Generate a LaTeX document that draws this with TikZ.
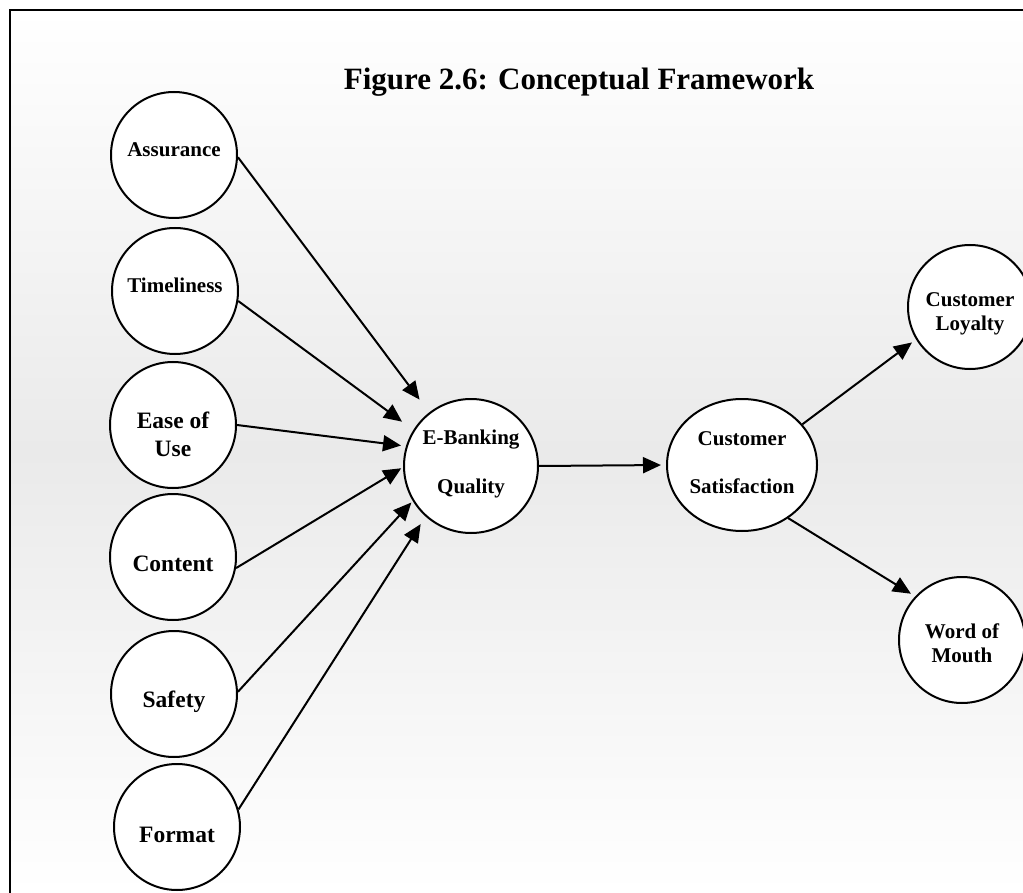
\documentclass[tikz,border=0pt]{standalone}
\usepackage{fontspec}
\setmainfont{Liberation Serif}
\usetikzlibrary{arrows.meta,shapes.geometric}
\definecolor{panelmid}{RGB}{234,234,234}
\begin{document}
\begin{tikzpicture}[x=1pt,y=-1pt,
  factor/.style={circle,draw=black,fill=white,line width=2pt,minimum size=126pt,inner sep=0pt},
  lbl/.style={font=\fontsize{21}{24}\selectfont\bfseries,align=center,inner sep=0pt},
  lblbig/.style={font=\fontsize{23.5}{28}\selectfont\bfseries,align=center,inner sep=0pt},
  link/.style={line width=2pt,-{Triangle[length=18pt,width=16pt]}},
]
\useasboundingbox (0,0) rectangle (1023,893);

% shaded panel with its frame
\shade[top color=white,bottom color=white,middle color=panelmid] (10,10) rectangle (1023,893);
\draw[line width=2pt] (10,893) -- (10,10) -- (1023,10);

% title
\node[font=\fontsize{31}{36}\selectfont\bfseries,anchor=base,inner sep=0pt] (title) at (579,90) {Figure 2.6: Conceptual Framework};

% service quality dimensions
\node[factor,label={[lbl,name=assT,yshift=5pt]center:Assurance}] (ass) at (174,155) {};
\node[factor,label={[lbl,name=timT,yshift=6pt]center:Timeliness}] (tim) at (175,291) {};
\node[factor,label={[lblbig,name=easeT,yshift=-9pt]center:Ease of\\Use}] (ease) at (173,425) {};
\node[factor,label={[lblbig,name=conT,yshift=-7pt]center:Content}] (con) at (173,557) {};
\node[factor,label={[lblbig,name=safT,yshift=-7.5pt]center:Safety}] (saf) at (174,694) {};
\node[factor,label={[lblbig,name=fmtT,yshift=-8pt]center:Format}] (fmt) at (177,827) {};

% central constructs
\node[factor,minimum size=134pt,label={[lbl,name=ebT,yshift=2pt]center:E-Banking\\[25pt]Quality}] (eb) at (471,466) {};
\node[ellipse,draw=black,fill=white,line width=2pt,minimum width=150pt,minimum height=132pt,inner sep=0pt,
      label={[lbl,name=csT,yshift=2.5pt]center:Customer\\[24pt]Satisfaction}] (cs) at (742,465) {};

% outcomes
\node[factor,minimum size=124pt,label={[lbl,name=clT,yshift=-7pt]center:Customer\\Loyalty}] (cl) at (970,307) {};
\node[factor,label={[lbl,name=womT,yshift=-3.5pt]center:Word of\\Mouth}] (wom) at (962,640) {};

% paths
\draw[link,shorten >=16pt] (ass.-2) -- (eb.128);
\draw[link,shorten >=14pt] (tim.-9) -- (eb.148);
\draw[link,shorten >=5pt] (ease.0) -- (eb.163);
\draw[link,shorten >=2pt] (con.-10) -- (eb.181);
\draw[link,shorten >=2pt] (saf.2) -- (eb.211);
\draw[link,shorten >=9pt] (fmt.16) -- (eb.228);
\draw[link,shorten >=5pt] (eb.0) -- (cs.180);
\draw[link,shorten >=5pt] (cs.34) -- (cl.211);
\draw[link,shorten >=5pt] (cs.-49) -- (wom.137);
\end{tikzpicture}
\end{document}
